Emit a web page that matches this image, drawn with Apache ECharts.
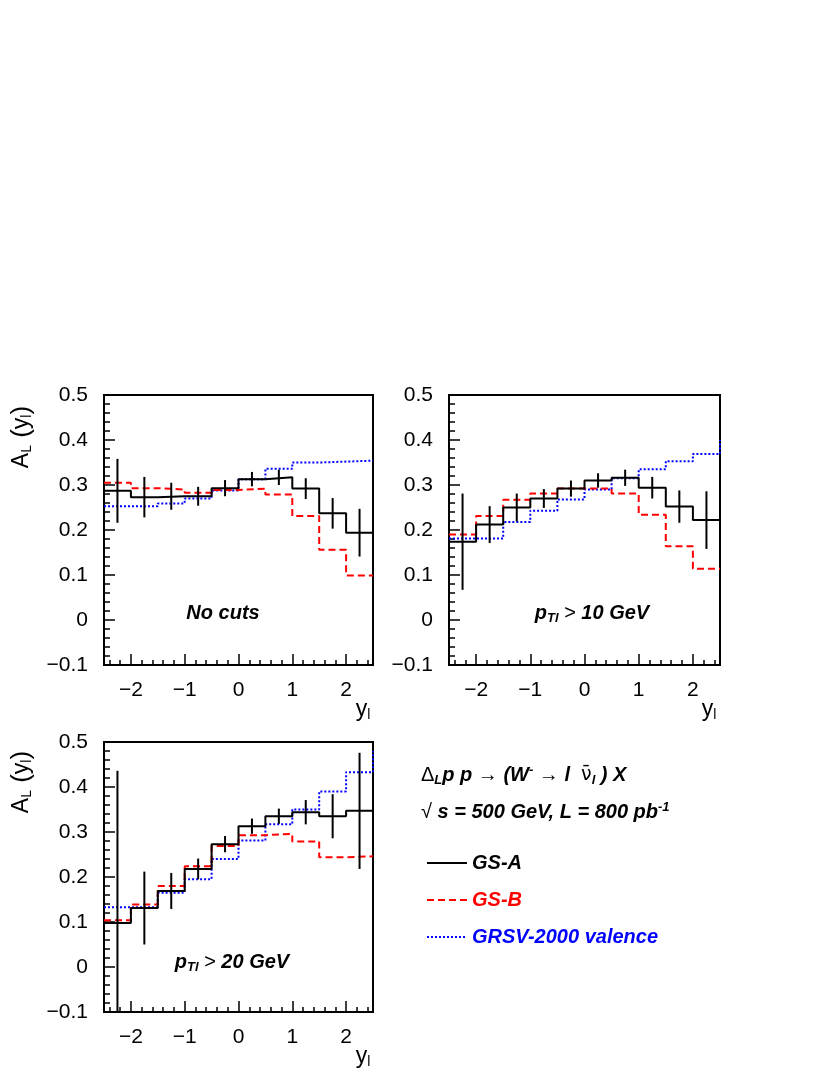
<!DOCTYPE html>
<html><head><meta charset="utf-8">
<script src="https://cdn.jsdelivr.net/npm/echarts@6/dist/echarts.min.js"></script>
<style>html,body{margin:0;padding:0;background:#fff}#c{width:830px;height:1075px}</style>
</head><body><div id="c"></div>
<script>
// ---- data ----
const binEdges = [-2.5, -2, -1.5, -1, -0.5, 0, 0.5, 1, 1.5, 2, 2.5];
const xMajorTicks = [-2, -1, 0, 1, 2];
const xMinorTicks = [-2.4, -2.2, -1.8, -1.6, -1.4, -1.2, -0.8, -0.6, -0.4, -0.2, 0.2, 0.4, 0.6, 0.8, 1.2, 1.4, 1.6, 1.8, 2.2, 2.4];

// Panel 1: no cuts
const p1GSA    = [0.287, 0.273, 0.275, 0.275, 0.293, 0.313, 0.317, 0.292, 0.237, 0.194];
const p1GSAerr = [0.071, 0.045, 0.030, 0.021, 0.018, 0.016, 0.017, 0.023, 0.034, 0.053];
const p1GSB    = [0.305, 0.293, 0.290, 0.283, 0.289, 0.292, 0.279, 0.231, 0.156, 0.099];
const p1GRSV   = [0.253, 0.253, 0.259, 0.270, 0.288, 0.313, 0.336, 0.350, 0.352, 0.354];
const p1GRSVover = null;

// Panel 2: pT > 10 GeV
const p2GSA    = [0.174, 0.212, 0.250, 0.270, 0.292, 0.310, 0.316, 0.294, 0.252, 0.222];
const p2GSAerr = [0.107, 0.041, 0.031, 0.021, 0.018, 0.016, 0.018, 0.024, 0.036, 0.064];
const p2GSB    = [0.190, 0.231, 0.267, 0.281, 0.292, 0.292, 0.281, 0.234, 0.164, 0.114];
const p2GRSV   = [0.181, 0.181, 0.218, 0.243, 0.268, 0.290, 0.315, 0.335, 0.353, 0.369];
const p2GRSVover = 0.40;

// Panel 3: pT > 20 GeV
const p3GSA    = [0.098, 0.131, 0.169, 0.218, 0.273, 0.313, 0.335, 0.344, 0.335, 0.347];
const p3GSAerr = [0.338, 0.081, 0.040, 0.023, 0.018, 0.017, 0.017, 0.027, 0.049, 0.129];
const p3GSB    = [0.104, 0.139, 0.180, 0.224, 0.269, 0.293, 0.296, 0.279, 0.244, 0.246];
const p3GRSV   = [0.133, 0.133, 0.165, 0.195, 0.240, 0.281, 0.317, 0.350, 0.390, 0.433];
const p3GRSVover = 0.48;

const seriesNames = ['GS-A', 'GS-B', 'GRSV-2000 valence'];

// ---- build chart ----
const FONT = '"Liberation Sans", Arial, Helvetica, sans-serif';
const chart = echarts.init(document.getElementById('c'), null, {renderer: 'canvas'});

const grids = [
  {left: 104, top: 395, width: 269, height: 270},
  {left: 449, top: 395, width: 271, height: 270},
  {left: 104, top: 742, width: 269, height: 270}
];
const panels = [
  {a: p1GSA, aErr: p1GSAerr, b: p1GSB, g: p1GRSV, over: p1GRSVover},
  {a: p2GSA, aErr: p2GSAerr, b: p2GSB, g: p2GRSV, over: p2GRSVover},
  {a: p3GSA, aErr: p3GSAerr, b: p3GSB, g: p3GRSV, over: p3GRSVover}
];

function stepData(vals, over) {
  const d = vals.map((v, i) => [binEdges[i], v]);
  d.push([binEdges[binEdges.length - 1], vals[vals.length - 1]]);
  if (over != null) d.push([binEdges[binEdges.length - 1], over]);
  return d;
}
function errData(vals, errs) {
  return vals.map((v, i) => [(binEdges[i] + binEdges[i + 1]) / 2, v, errs[i]]);
}
const minus = s => String(s).replace('-', '\u2212');

const xAxes = [], yAxes = [], series = [];
grids.forEach((g, i) => {
  xAxes.push({
    type: 'value', gridIndex: i, min: -2.5, max: 2.5, position: 'bottom',
    axisLine: {show: true, onZero: false, lineStyle: {color: '#000', width: 2}},
    axisTick: {show: true, inside: true, length: 11, customValues: xMajorTicks, lineStyle: {color: '#000', width: 1.5}},
    axisLabel: {show: true, customValues: xMajorTicks, margin: 15, color: '#000', fontFamily: FONT, fontSize: 21,
      formatter: v => minus(v)},
    splitLine: {show: false}
  });
  xAxes.push({
    type: 'value', gridIndex: i, min: -2.5, max: 2.5, position: 'bottom',
    axisLine: {show: false, onZero: false},
    axisTick: {show: true, inside: true, length: 5, customValues: xMinorTicks, lineStyle: {color: '#000', width: 1.5}},
    axisLabel: {show: false},
    splitLine: {show: false}
  });
  yAxes.push({
    type: 'value', gridIndex: i, min: -0.1, max: 0.5, interval: 0.1, position: 'left',
    axisLine: {show: true, onZero: false, lineStyle: {color: '#000', width: 2}},
    axisTick: {show: true, inside: true, length: 11, lineStyle: {color: '#000', width: 1.5}},
    minorTick: {show: true, splitNumber: 5, length: 6, lineStyle: {color: '#000', width: 1.5}},
    axisLabel: {margin: 16, color: '#000', fontFamily: FONT, fontSize: 21,
      formatter: v => Math.abs(v) < 1e-9 ? '0' : minus(v.toFixed(1))},
    splitLine: {show: false}
  });
  const p = panels[i];
  series.push({
    name: 'GRSV-2000 valence', type: 'line', xAxisIndex: 2 * i, yAxisIndex: i, step: 'end',
    data: stepData(p.g, p.over), symbol: 'none', z: 3,
    lineStyle: {color: '#0000ff', width: 2, type: [2, 2]}, itemStyle: {color: '#0000ff'}
  });
  series.push({
    name: 'GS-B', type: 'line', xAxisIndex: 2 * i, yAxisIndex: i, step: 'end',
    data: stepData(p.b, null), symbol: 'none', z: 4,
    lineStyle: {color: '#ff0000', width: 2, type: [7, 4]}, itemStyle: {color: '#ff0000'}
  });
  series.push({
    name: 'GS-A', type: 'line', xAxisIndex: 2 * i, yAxisIndex: i, step: 'end',
    data: stepData(p.a, null), symbol: 'none', z: 5,
    lineStyle: {color: '#000', width: 2, type: 'solid'}, itemStyle: {color: '#000'}
  });
  series.push({
    name: 'GS-A errors', type: 'custom', xAxisIndex: 2 * i, yAxisIndex: i, z: 6,
    encode: {x: 0, y: 1},
    data: errData(p.a, p.aErr),
    renderItem: function (params, api) {
      const x = api.coord([api.value(0), 0])[0];
      const yHi = api.coord([0, api.value(1) + api.value(2)])[1];
      const yLo = api.coord([0, api.value(1) - api.value(2)])[1];
      const cs = params.coordSys;
      return {
        type: 'line',
        shape: {x1: x, y1: Math.max(cs.y, yHi), x2: x, y2: Math.min(cs.y + cs.height, yLo)},
        style: {stroke: '#000', lineWidth: 2}
      };
    }
  });
});

const richBase = {
  m:  {fontFamily: FONT, fontWeight: 'bold', fontStyle: 'italic', fontSize: 20, color: '#000'},
  r:  {fontFamily: FONT, fontSize: 20, color: '#000'},
  ra: {fontFamily: FONT, fontWeight: 'bold', fontSize: 20, color: '#000'},
  sb: {fontFamily: FONT, fontWeight: 'bold', fontStyle: 'italic', fontSize: 13, color: '#000', padding: [10, 0, 0, 0]},
  sp: {fontFamily: FONT, fontWeight: 'bold', fontStyle: 'italic', fontSize: 13, color: '#000', padding: [0, 0, 10, 0]},
  nu: {fontFamily: '"DejaVu Sans", sans-serif', fontSize: 19, color: '#000'},
  A:  {fontFamily: FONT, fontSize: 23, color: '#000'},
  As: {fontFamily: FONT, fontSize: 14, color: '#000', padding: [10, 0, 0, 0]},
  P:  {fontFamily: FONT, fontSize: 26, color: '#000'}
};
function txt(x, y, text, align, extra) {
  return Object.assign({
    type: 'text', x: x, y: y, z: 100,
    style: {text: text, rich: richBase, align: align || 'center', verticalAlign: 'middle'}
  }, extra || {});
}
const yTitle = '{A|A}{As|L}{P| (}{A|y}{As|l}{P|)}';
const graphic = [
  txt(223, 613, '{m|No cuts}'),
  txt(592, 613, '{m|p}{sb|Tl}{r| > }{m|10 GeV}'),
  txt(232, 962, '{m|p}{sb|Tl}{r| > }{m|20 GeV}'),
  txt(22, 437, yTitle, 'center', {rotation: Math.PI / 2}),
  txt(22, 782, yTitle, 'center', {rotation: Math.PI / 2}),
  txt(363, 710, '{A|y}{As|l}'),
  txt(709, 710, '{A|y}{As|l}'),
  txt(363, 1057, '{A|y}{As|l}'),
  txt(421, 775, '{r|\u0394}{sb|L}{m|p p }{ra|\u2192}{m| (W}{sp|-}{m| }{ra|\u2192}{m| l  }{nu|\u03BD\u0304}{sb|l}{m| ) X}', 'left'),
  txt(421, 812, '{r|\u221A}{m| s = 500 GeV, L = 800 pb}{sp|-1}', 'left')
];

chart.setOption({
  animation: false,
  backgroundColor: '#fff',
  grid: grids.map(g => Object.assign({show: true, borderColor: '#000', borderWidth: 2, backgroundColor: 'transparent'}, g)),
  xAxis: xAxes,
  yAxis: yAxes,
  series: series,
  legend: {
    left: 421, top: 848, orient: 'vertical', itemWidth: 40, itemHeight: 12, itemGap: 17,
    selectedMode: false,
    itemStyle: {opacity: 0},
    textStyle: {fontFamily: FONT, fontSize: 20, fontWeight: 'bold', fontStyle: 'italic'},
    data: [
      {name: 'GS-A', textStyle: {color: '#000'}},
      {name: 'GS-B', textStyle: {color: '#ff0000'}},
      {name: 'GRSV-2000 valence', textStyle: {color: '#0000ff'}}
    ]
  },
  graphic: graphic
});
</script>
</body></html>
